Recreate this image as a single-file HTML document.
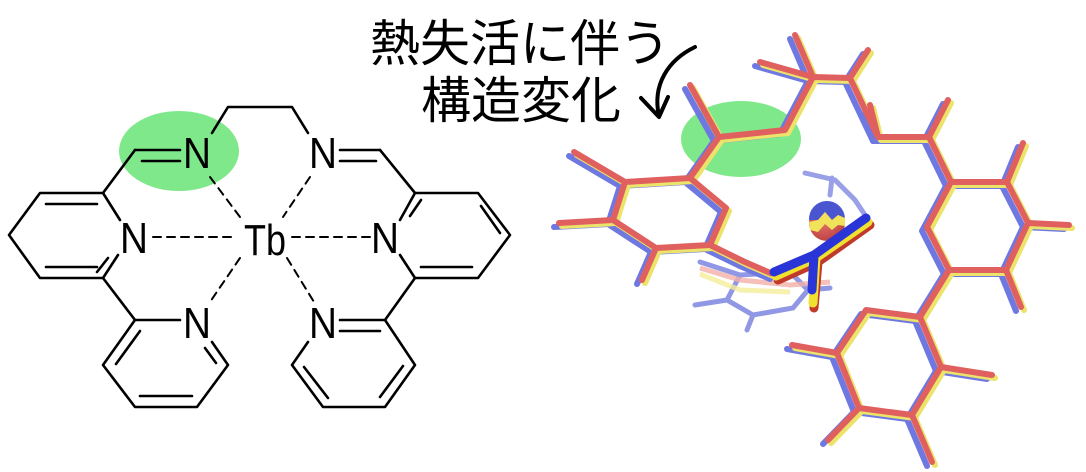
<!DOCTYPE html>
<html><head><meta charset="utf-8"><style>
html,body{margin:0;padding:0;background:#fff;width:1086px;height:472px;overflow:hidden}
</style></head><body>
<svg width="1086" height="472" viewBox="0 0 1086 472" xmlns="http://www.w3.org/2000/svg">
<ellipse cx="179" cy="151" rx="60" ry="40" fill="#7fe88a"/>
<g stroke="#000" stroke-width="2.6" fill="none" stroke-linecap="round" stroke-linejoin="round">
<!-- left ring -->
<polyline points="120,220 103,193 40,193 9,235 40,278 103,278 118,255"/>
<line x1="46" y1="204" x2="97" y2="204"/><line x1="46" y1="267" x2="97" y2="267"/>
<line x1="108" y1="258" x2="97" y2="272"/>
<!-- imine left -->
<line x1="103" y1="193" x2="135" y2="150"/>
<line x1="135" y1="150" x2="180" y2="150"/><line x1="142" y1="161" x2="180" y2="161"/>
<polyline points="212,133 228,107 292,107 308,133"/>
<line x1="340" y1="150" x2="380" y2="150"/><line x1="340" y1="161" x2="376" y2="161"/>
<line x1="380" y1="150" x2="415" y2="193"/>
<!-- right ring -->
<polyline points="400,220 415,193 478,193 510,235 478,278 415,278 400,255"/>
<line x1="481" y1="206" x2="500" y2="233"/><line x1="421" y1="267" x2="472" y2="267"/>
<line x1="421" y1="200" x2="410" y2="216"/>
<!-- bottom left ring -->
<line x1="103" y1="278" x2="135" y2="320"/>
<polyline points="180,320 135,320 103,365 135,407 197,407 228,365 212,342"/>
<line x1="140" y1="331" x2="116" y2="364"/><line x1="140" y1="396" x2="192" y2="396"/>
<line x1="216" y1="363" x2="205" y2="348"/>
<!-- bottom right ring -->
<line x1="415" y1="278" x2="385" y2="320"/>
<polyline points="340,320 385,320 415,365 385,407 323,407 292,365 308,342"/>
<line x1="340" y1="331" x2="380" y2="331"/>
<line x1="304" y1="367" x2="328" y2="398"/>
<line x1="403" y1="366" x2="380" y2="397"/>
<!-- dashed bonds -->
<g stroke-dasharray="8,6" stroke-width="2">
<line x1="153" y1="237" x2="232" y2="237"/>
<line x1="292" y1="237" x2="370" y2="237"/>
<line x1="210" y1="177" x2="243" y2="221"/>
<line x1="310" y1="177" x2="283" y2="217"/>
<line x1="240" y1="258" x2="210" y2="302"/>
<line x1="287" y1="258" x2="314" y2="302"/>
</g>
</g>
<g font-family="Liberation Sans, sans-serif" font-size="44" fill="#000">
<text x="183" y="168" textLength="28" lengthAdjust="spacingAndGlyphs">N</text>
<text x="309" y="168" textLength="28" lengthAdjust="spacingAndGlyphs">N</text>
<text x="120" y="253" textLength="28" lengthAdjust="spacingAndGlyphs">N</text>
<text x="371" y="253" textLength="28" lengthAdjust="spacingAndGlyphs">N</text>
<text x="244" y="255" textLength="42" lengthAdjust="spacingAndGlyphs">Tb</text>
<text x="183" y="338" textLength="28" lengthAdjust="spacingAndGlyphs">N</text>
<text x="309" y="338" textLength="28" lengthAdjust="spacingAndGlyphs">N</text>
</g>
<g font-family="Liberation Sans, 'Noto Sans CJK JP', sans-serif" font-size="50" fill="#000">
<text x="370" y="61">熱失活に伴う</text>
<text x="421" y="118">構造変化</text>
</g>
<path d="M695,47 C668,60 652,85 659,116" stroke="#000" stroke-width="4" fill="none" stroke-linecap="round"/>
<polyline points="641,98 659,117 668,97" stroke="#000" stroke-width="4" fill="none" stroke-linecap="round" stroke-linejoin="round"/>
<ellipse cx="741" cy="139" rx="60" ry="38" fill="#7fe88a"/>
<g stroke="#7d86e0" stroke-width="5" fill="none" stroke-linecap="round" opacity="0.85">
<polyline points="695,305 727,300 753,315 793,308 808,290 790,272 740,275 727,300"/>
<line x1="753" y1="315" x2="747" y2="330"/>
<line x1="808" y1="290" x2="830" y2="288"/>
<line x1="740" y1="275" x2="700" y2="262"/>
</g>
<g stroke="#f2b0a8" stroke-width="5" fill="none" opacity="0.8"><polyline points="700,268 740,280 790,285 830,282"/></g>
<g stroke="#f4ee9a" stroke-width="5" fill="none" opacity="0.8"><polyline points="700,274 740,290 790,292"/></g>
<g stroke="#9aa0e8" stroke-width="5" fill="none" stroke-linecap="round"><polyline points="805,173 835,180 855,200 865,215"/><line x1="832" y1="178" x2="830" y2="195"/></g>
<defs>
<g id="sk">
<polygon points="625,182 690,178 726,208 710,245 656,248 613,220"/>
<polyline points="625,182 574,152"/>
<polyline points="613,220 559,223"/>
<polyline points="656,248 642,280"/>
<polyline points="690,178 719,137 785,130 813,77 850,78 878,137 929,137 951,182"/>
<polyline points="719,137 690,85"/>
<polyline points="813,77 795,35"/>
<polyline points="813,77 760,62"/>
<polyline points="850,78 868,50"/>
<polyline points="878,137 870,105"/>
<polyline points="929,137 948,100"/>
<polyline points="710,245 745,262 775,275"/>
<polygon points="951,182 1007,182 1028,223 1006,270 949,270 927,227"/>
<polyline points="1007,182 1023,143"/>
<polyline points="1028,223 1069,225"/>
<polyline points="1006,270 1021,307"/>
<polyline points="949,270 920,317"/>
<polygon points="920,317 941,367 912,415 859,408 837,353 866,310"/>
<polyline points="941,367 992,375"/>
<polyline points="912,415 932,462"/>
<polyline points="837,353 792,345"/>
<polyline points="859,408 828,440"/>
</g>
</defs>
<g fill="none" stroke-linecap="round" stroke-linejoin="round" stroke-width="6">
<use href="#sk" stroke="#6f78e0" transform="translate(-5,4)"/>
<use href="#sk" stroke="#ece36a" transform="translate(3,3)"/>
<use href="#sk" stroke="#e06060"/>
</g>
<defs><radialGradient id="gs" cx="0.4" cy="0.35" r="0.7"><stop offset="0" stop-color="#f07a70"/><stop offset="1" stop-color="#b84040"/></radialGradient></defs>
<circle cx="827" cy="223" r="18" fill="url(#gs)"/>
<path d="M809,220 A18,18 0 0 1 845,218 L838,215 L832,220 L825,212 L818,220 Z" fill="#4a55d0"/>
<path d="M809,222 L818,220 L825,212 L832,220 L838,215 L845,218 L845,226 L838,225 L832,230 L825,224 L818,232 L810,230 Z" fill="#f0e25a"/>
<g fill="none" stroke-linecap="round" stroke-width="9">
<polyline points="870,225 818,262 778,280" stroke="#c0392b"/>
<line x1="818" y1="262" x2="814" y2="308" stroke="#c0392b"/>
<polyline points="868,222 816,258 776,276" stroke="#f0e030"/>
<line x1="816" y1="258" x2="813" y2="303" stroke="#f0e030"/>
<polyline points="866,218 814,255 774,272" stroke="#2a35d8"/>
<line x1="814" y1="255" x2="812" y2="290" stroke="#2a35d8"/>
</g>
</svg>
</body></html>
